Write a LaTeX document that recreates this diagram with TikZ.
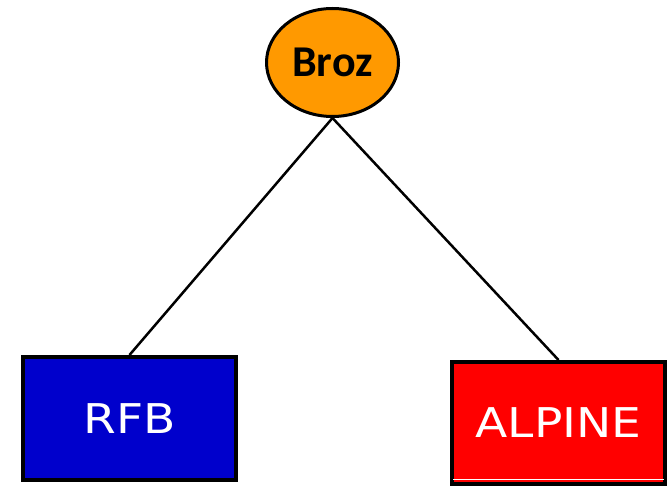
\documentclass[tikz,border=0pt]{standalone}
\usepackage{fontspec}
\usepackage{xcolor}
\usetikzlibrary{shapes}
\usetikzlibrary{positioning}
\newfontfamily\rootfont{Carlito}
\newfontfamily\leaffont{DejaVu Sans}
\definecolor{brozorange}{HTML}{FF9900}
\definecolor{rfbblue}{HTML}{0000CC}
\definecolor{alpinered}{HTML}{FF0000}

\tikzset{
  rootnode/.style={ellipse, draw, line width=3pt, fill=brozorange, inner sep=0pt,
    minimum width=132pt, minimum height=108pt,
    font=\rootfont\bfseries\fontsize{44}{44}\selectfont},
  leafnode/.style={rectangle, draw, line width=4pt, inner sep=0pt, text=white,
    minimum width=213pt, minimum height=123pt,
    font=\leaffont\fontsize{41}{41}\selectfont},
  edge/.style={line width=2.5pt}
}

\begin{document}
\begin{tikzpicture}[x=1pt,y=-1pt]
\useasboundingbox (0,0) rectangle (672,486);
\node[rootnode] (broz) at (332.5,62.5) {Broz};
\node[leafnode, fill=rfbblue] (rfb) at (129.5,418.5) {\scalebox{1.15}[1]{RFB}};
\node[leafnode, fill=alpinered, minimum height=122pt] (alpine) at (558.5,423) {\scalebox{1.15}[1]{ALPINE}};
\draw[edge] (broz.south) -- (rfb.north);
\draw[edge] (broz.south) -- (alpine.north);
\draw[white, line width=1pt] ([xshift=3pt,yshift=6.5pt]alpine.south west) -- ([xshift=-3pt,yshift=6.5pt]alpine.south east);
\end{tikzpicture}
\end{document}
